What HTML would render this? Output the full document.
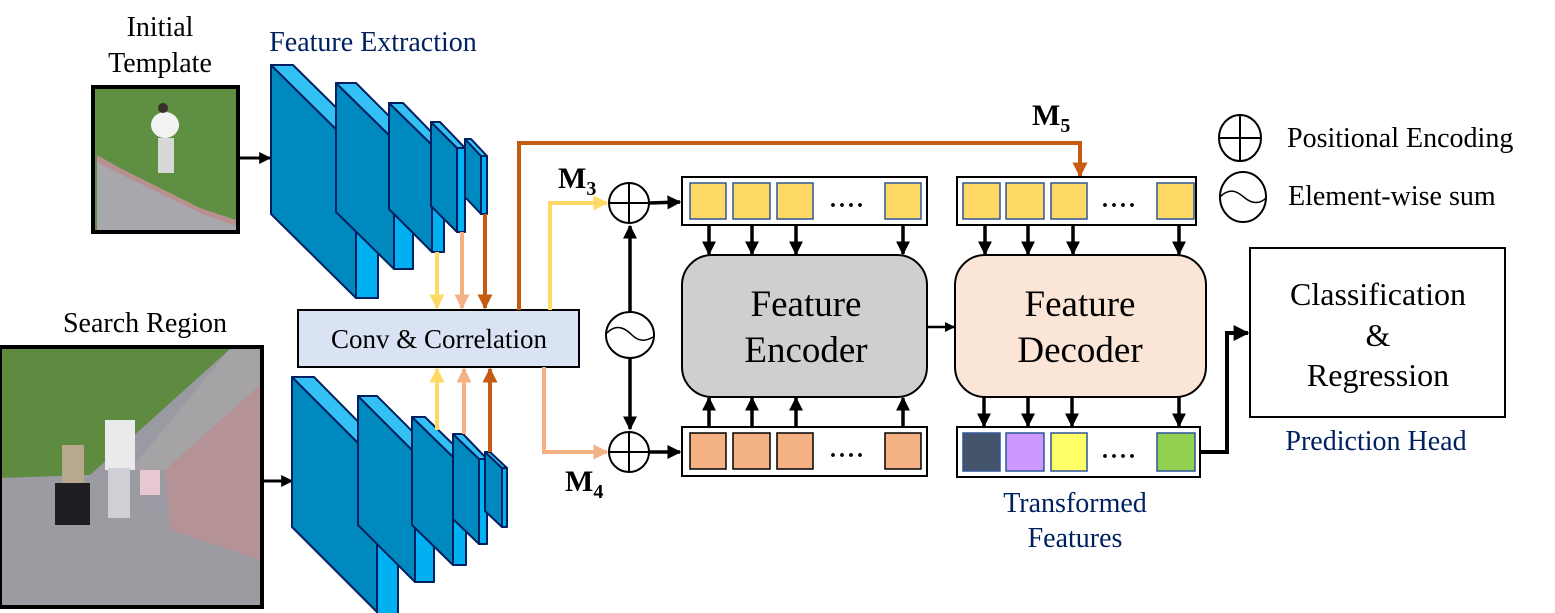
<!DOCTYPE html>
<html><head><meta charset="utf-8"><style>
html,body{margin:0;padding:0;background:#fff;}
svg{display:block;}
text{font-family:"Liberation Serif",serif;}
</style></head><body>
<svg width="1555" height="613" viewBox="0 0 1555 613" xmlns="http://www.w3.org/2000/svg">
<defs>
<marker id="ab" viewBox="0 0 10 10" refX="9" refY="5" markerWidth="4" markerHeight="4" orient="auto"><path d="M0,0 L10,5 L0,10 z" fill="#000"/></marker>
<marker id="ay" viewBox="0 0 10 10" refX="9" refY="5" markerWidth="3.8" markerHeight="3.8" orient="auto"><path d="M0,0 L10,5 L0,10 z" fill="#FFD966"/></marker>
<marker id="ap" viewBox="0 0 10 10" refX="9" refY="5" markerWidth="3.8" markerHeight="3.8" orient="auto"><path d="M0,0 L10,5 L0,10 z" fill="#F4B183"/></marker>
<marker id="ao" viewBox="0 0 10 10" refX="9" refY="5" markerWidth="3.8" markerHeight="3.8" orient="auto"><path d="M0,0 L10,5 L0,10 z" fill="#C55A11"/></marker>
</defs>

<!-- labels top-left -->
<text x="160" y="36" font-size="28" text-anchor="middle">Initial</text>
<text x="160" y="72" font-size="28" text-anchor="middle">Template</text>
<text x="373" y="51" font-size="28" text-anchor="middle" fill="#002060">Feature Extraction</text>
<text x="145" y="332" font-size="28" text-anchor="middle">Search Region</text>

<!-- template image -->
<rect x="95" y="89" width="141" height="141" fill="#5f8f41"/>
<polygon points="97,200 97,230 236,230 236,222 200,210 120,170 97,160" fill="#a9a7ae"/>
<polygon points="97,155 120,168 200,208 236,220 236,226 200,213 120,174 97,162" fill="#b8908f"/>
<ellipse cx="165" cy="125" rx="14" ry="13" fill="#f2f2f2"/>
<rect x="158" y="138" width="16" height="35" fill="#d8d8d8"/>
<circle cx="163" cy="108" r="5" fill="#3a2f2a"/>
<rect x="93" y="87" width="145" height="145" fill="none" stroke="#000" stroke-width="4"/>
<line x1="238" y1="158" x2="270" y2="158" stroke="#000" stroke-width="3" marker-end="url(#ab)"/>

<!-- search image -->
<rect x="2" y="349" width="258" height="256" fill="#9a9aa2"/>
<polygon points="2,349 230,349 140,430 90,475 2,478" fill="#5e8b3f"/>
<polygon points="230,349 260,349 260,385 165,470 130,470" fill="#a5a3a6"/>
<polygon points="165,470 260,385 260,560 170,530" fill="#b49296"/>
<polygon points="2,478 90,475 130,478 170,530 260,560 260,605 2,605" fill="#9c9ba2"/>
<rect x="105" y="420" width="30" height="50" fill="#eaeaea"/>
<rect x="108" y="468" width="22" height="50" fill="#cfcfd6"/>
<rect x="62" y="445" width="22" height="40" fill="#b7a88e"/>
<rect x="55" y="483" width="35" height="42" fill="#1e1e22"/>
<rect x="140" y="470" width="20" height="25" fill="#e8c8d0"/>
<rect x="0" y="347" width="262" height="260" fill="none" stroke="#000" stroke-width="4"/>
<line x1="262" y1="481" x2="292" y2="481" stroke="#000" stroke-width="3" marker-end="url(#ab)"/>

<!-- top CNN blocks -->
<g stroke="#002060" stroke-width="2" stroke-linejoin="round">
<g><polygon points="271,65 356,149 356,298 271,214" fill="#0089BF"/><polygon points="271,65 293,65 378,149 356,149" fill="#33C1F5"/><rect x="356" y="149" width="22" height="149" fill="#00B0F0"/></g>
<g><polygon points="336,83 394,140 394,269 336,212" fill="#0089BF"/><polygon points="336,83 356,83 413,140 394,140" fill="#33C1F5"/><rect x="394" y="140" width="19" height="129" fill="#00B0F0"/></g>
<g><polygon points="389,103 432,145 432,252 389,209" fill="#0089BF"/><polygon points="389,103 403,103 444,145 432,145" fill="#33C1F5"/><rect x="432" y="145" width="12" height="107" fill="#00B0F0"/></g>
<g><polygon points="431,122 457,148 457,232 431,206" fill="#0089BF"/><polygon points="431,122 440,122 465,148 457,148" fill="#33C1F5"/><rect x="457" y="148" width="8" height="84" fill="#00B0F0"/></g>
<g><polygon points="465,139 481,156 481,214 465,197" fill="#0089BF"/><polygon points="465,139 471,139 487,156 481,156" fill="#33C1F5"/><rect x="481" y="156" width="6" height="58" fill="#00B0F0"/></g>
</g>

<!-- bottom CNN blocks -->
<g stroke="#002060" stroke-width="2" stroke-linejoin="round">
<g><polygon points="292,377 377,462 377,612 292,527" fill="#0089BF"/><polygon points="292,377 314,377 398,462 377,462" fill="#33C1F5"/><rect x="377" y="462" width="21" height="152" fill="#00B0F0"/></g>
<g><polygon points="358,396 415,453 415,582 358,525" fill="#0089BF"/><polygon points="358,396 377,396 434,453 415,453" fill="#33C1F5"/><rect x="415" y="453" width="19" height="129" fill="#00B0F0"/></g>
<g><polygon points="412,417 453,457 453,565 412,525" fill="#0089BF"/><polygon points="412,417 425,417 466,457 453,457" fill="#33C1F5"/><rect x="453" y="457" width="13" height="108" fill="#00B0F0"/></g>
<g><polygon points="453,434 479,459 479,544 453,519" fill="#0089BF"/><polygon points="453,434 463,434 487,459 479,459" fill="#33C1F5"/><rect x="479" y="459" width="8" height="85" fill="#00B0F0"/></g>
<g><polygon points="485,452 502,468 502,527 485,511" fill="#0089BF"/><polygon points="485,452 490,452 507,468 502,468" fill="#33C1F5"/><rect x="502" y="468" width="5" height="59" fill="#00B0F0"/></g>
</g>

<!-- colored feature arrows -->
<line x1="437" y1="252" x2="437" y2="308" stroke="#FFD966" stroke-width="4" marker-end="url(#ay)"/>
<line x1="462" y1="232" x2="462" y2="308" stroke="#F4B183" stroke-width="4" marker-end="url(#ap)"/>
<line x1="485" y1="214" x2="485" y2="308" stroke="#C55A11" stroke-width="4" marker-end="url(#ao)"/>
<line x1="437" y1="430" x2="437" y2="369" stroke="#FFD966" stroke-width="4" marker-end="url(#ay)"/>
<line x1="464" y1="434" x2="464" y2="369" stroke="#F4B183" stroke-width="4" marker-end="url(#ap)"/>
<line x1="490" y1="452" x2="490" y2="369" stroke="#C55A11" stroke-width="4" marker-end="url(#ao)"/>

<!-- conv box -->
<rect x="298" y="310" width="281" height="57" fill="#DAE3F3" stroke="#000" stroke-width="2"/>
<text x="439" y="348" font-size="27" text-anchor="middle">Conv &amp; Correlation</text>

<!-- M5 orange path -->
<polyline points="519,310 519,143 1080,143 1080,176" fill="none" stroke="#C55A11" stroke-width="4" marker-end="url(#ao)"/>
<polyline points="550,310 550,203 607,203" fill="none" stroke="#FFD966" stroke-width="4" marker-end="url(#ay)"/>
<polyline points="544,367 544,452 607,452" fill="none" stroke="#F4B183" stroke-width="4" marker-end="url(#ap)"/>

<text x="558" y="188" font-size="30" font-weight="bold">M<tspan font-size="20" dy="7">3</tspan></text>
<text x="565" y="491" font-size="30" font-weight="bold">M<tspan font-size="20" dy="7">4</tspan></text>
<text x="1032" y="125" font-size="30" font-weight="bold">M<tspan font-size="20" dy="7">5</tspan></text>

<!-- plus circles and tilde -->
<g stroke="#000" stroke-width="2" fill="#fff">
<circle cx="629" cy="203" r="20"/><line x1="609" y1="203" x2="649" y2="203"/><line x1="629" y1="183" x2="629" y2="223"/>
<circle cx="629" cy="452" r="20"/><line x1="609" y1="452" x2="649" y2="452"/><line x1="629" y1="432" x2="629" y2="472"/>
<ellipse cx="630" cy="335" rx="24" ry="23"/>
<path d="M607,333 C617,322 627,330 632,335 C638,341 645,342 653,337" fill="none" stroke-width="1.5"/>
</g>
<line x1="630" y1="312" x2="630" y2="226" stroke="#000" stroke-width="3.5" marker-end="url(#ab)"/>
<line x1="630" y1="358" x2="630" y2="429" stroke="#000" stroke-width="3.5" marker-end="url(#ab)"/>
<line x1="649" y1="203" x2="680" y2="202" stroke="#000" stroke-width="3.5" marker-end="url(#ab)"/>
<line x1="649" y1="452" x2="680" y2="452" stroke="#000" stroke-width="3.5" marker-end="url(#ab)"/>

<!-- encoder tokens top -->
<rect x="682" y="177" width="245" height="48" fill="#fff" stroke="#000" stroke-width="2"/>
<g fill="#FFD966" stroke="#2F5597" stroke-width="1.5">
<rect x="690" y="183" width="36" height="36"/><rect x="733" y="183" width="37" height="36"/><rect x="777" y="183" width="36" height="36"/><rect x="885" y="183" width="36" height="36"/>
</g>
<text x="848" y="207" font-size="24" text-anchor="middle" font-weight="bold" letter-spacing="3">....</text>
<rect x="682" y="427" width="245" height="49" fill="#fff" stroke="#000" stroke-width="2"/>
<g fill="#F4B183" stroke="#000" stroke-width="1.5">
<rect x="690" y="433" width="36" height="36"/><rect x="733" y="433" width="37" height="36"/><rect x="777" y="433" width="36" height="36"/><rect x="885" y="433" width="36" height="36"/>
</g>
<text x="848" y="457" font-size="24" text-anchor="middle" font-weight="bold" letter-spacing="3">....</text>

<!-- encoder -->
<rect x="682" y="255" width="245" height="142" rx="30" fill="#D0CECE" stroke="#000" stroke-width="2"/>
<text x="806" y="316" font-size="37" text-anchor="middle">Feature</text>
<text x="806" y="362" font-size="37" text-anchor="middle">Encoder</text>
<g stroke="#000" stroke-width="3.5" marker-end="url(#ab)">
<line x1="709" y1="226" x2="709" y2="254"/><line x1="752" y1="226" x2="752" y2="254"/><line x1="796" y1="226" x2="796" y2="254"/><line x1="903" y1="226" x2="903" y2="254"/>
<line x1="709" y1="427" x2="709" y2="398"/><line x1="752" y1="427" x2="752" y2="398"/><line x1="796" y1="427" x2="796" y2="398"/><line x1="903" y1="427" x2="903" y2="398"/>
</g>
<line x1="927" y1="327" x2="954" y2="327" stroke="#000" stroke-width="2.5" marker-end="url(#ab)"/>

<!-- decoder tokens -->
<rect x="957" y="177" width="239" height="48" fill="#fff" stroke="#000" stroke-width="2"/>
<g fill="#FFD966" stroke="#2F5597" stroke-width="1.5">
<rect x="963" y="183" width="37" height="36"/><rect x="1006" y="183" width="38" height="36"/><rect x="1051" y="183" width="36" height="36"/><rect x="1157" y="183" width="37" height="36"/>
</g>
<text x="1120" y="207" font-size="24" text-anchor="middle" font-weight="bold" letter-spacing="3">....</text>
<rect x="957" y="427" width="243" height="50" fill="#fff" stroke="#000" stroke-width="2"/>
<g stroke="#2F5597" stroke-width="1.5">
<rect x="963" y="433" width="37" height="38" fill="#44546A"/><rect x="1006" y="433" width="38" height="38" fill="#CC99FF"/><rect x="1051" y="433" width="36" height="38" fill="#FFFF66"/><rect x="1157" y="433" width="38" height="38" fill="#92D050"/>
</g>
<text x="1120" y="458" font-size="24" text-anchor="middle" font-weight="bold" letter-spacing="3">....</text>

<!-- decoder -->
<rect x="955" y="255" width="251" height="142" rx="30" fill="#FBE5D6" stroke="#000" stroke-width="2"/>
<text x="1080" y="316" font-size="37" text-anchor="middle">Feature</text>
<text x="1080" y="362" font-size="37" text-anchor="middle">Decoder</text>
<g stroke="#000" stroke-width="3.5" marker-end="url(#ab)">
<line x1="985" y1="226" x2="985" y2="254"/><line x1="1028" y1="226" x2="1028" y2="254"/><line x1="1073" y1="226" x2="1073" y2="254"/><line x1="1179" y1="226" x2="1179" y2="254"/>
<line x1="984" y1="397" x2="984" y2="426"/><line x1="1028" y1="397" x2="1028" y2="426"/><line x1="1072" y1="397" x2="1072" y2="426"/><line x1="1179" y1="397" x2="1179" y2="426"/>
</g>

<polyline points="1200,452 1227,452 1227,333 1248,333" fill="none" stroke="#000" stroke-width="4" marker-end="url(#ab)"/>

<!-- prediction head -->
<rect x="1250" y="248" width="255" height="169" fill="#fff" stroke="#000" stroke-width="2"/>
<text x="1378" y="305" font-size="32" text-anchor="middle">Classification</text>
<text x="1378" y="346" font-size="32" text-anchor="middle">&amp;</text>
<text x="1378" y="386" font-size="32" text-anchor="middle">Regression</text>
<text x="1376" y="450" font-size="28" text-anchor="middle" fill="#002060">Prediction Head</text>

<text x="1075" y="512" font-size="28" text-anchor="middle" fill="#002060">Transformed</text>
<text x="1075" y="547" font-size="28" text-anchor="middle" fill="#002060">Features</text>

<!-- legend -->
<g stroke="#000" stroke-width="2" fill="#fff">
<ellipse cx="1240" cy="138" rx="21" ry="23"/><line x1="1219" y1="138" x2="1261" y2="138"/><line x1="1240" y1="115" x2="1240" y2="161"/>
<ellipse cx="1243" cy="197" rx="23" ry="25"/>
<path d="M1220,197 C1231,186 1239,193 1245,198 C1251,203 1259,205 1266,198" fill="none" stroke-width="1.5"/>
</g>
<text x="1287" y="147" font-size="28">Positional Encoding</text>
<text x="1288" y="205" font-size="28">Element-wise sum</text>
</svg>
</body></html>
